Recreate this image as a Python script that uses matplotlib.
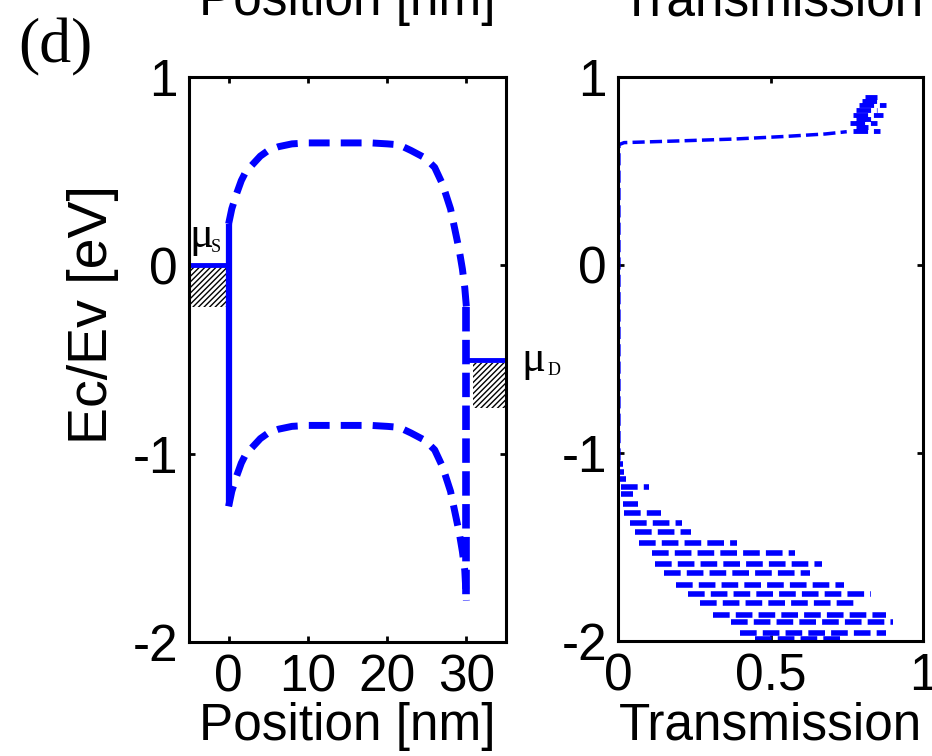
import matplotlib
matplotlib.use('Agg')
import matplotlib.pyplot as plt
from matplotlib.patches import Rectangle
import numpy as np

plt.rcParams['font.family'] = ['Liberation Sans', 'DejaVu Sans']
plt.rcParams['hatch.linewidth'] = 1.0
plt.rcParams['axes.unicode_minus'] = False

# band edges along the channel [nm, eV]
position = [0, 0.4, 1, 1.6, 2.2, 2.9, 4, 5, 6.3, 8, 10, 14, 18, 20, 21.5,
            23, 24.8, 26, 27, 28, 28.6, 29.1, 29.5, 29.8, 30]
ec = [0.22, 0.30, 0.38, 0.45, 0.50, 0.53, 0.58, 0.61, 0.63, 0.645, 0.65, 0.65,
      0.65, 0.645, 0.64, 0.61, 0.57, 0.52, 0.43, 0.30, 0.18, 0.08, -0.02, -0.12, -0.22]
ev = [-1.28, -1.20, -1.12, -1.05, -1.00, -0.97, -0.92, -0.89, -0.87, -0.855, -0.85, -0.85,
      -0.85, -0.855, -0.86, -0.89, -0.93, -0.98, -1.07, -1.20, -1.32, -1.42, -1.52, -1.62, -1.78]

# contact Fermi levels
mu_s = 0.0
mu_d = -0.5

# transmission inside the gap (hugging zero)
t_gap = [0.003, 0.003]
e_gap = [-1.04, 0.64]
# rising edge above the gap
t_edge = [0.003, 0.02, 0.2, 0.38, 0.55, 0.68, 0.75]
e_edge = [0.64, 0.651, 0.66, 0.670, 0.684, 0.697, 0.709]
# oscillating rows in the conduction band (energy, low, high)
e_cb = [0.715, 0.735, 0.755, 0.775, 0.80, 0.825, 0.85, 0.875, 0.895]
t_cb_lo = [0.77, 0.78, 0.76, 0.78, 0.77, 0.78, 0.79, 0.80, 0.81]
t_cb_hi = [0.86, 0.82, 0.85, 0.83, 0.87, 0.85, 0.88, 0.86, 0.85]
# oscillating rows in the valence band (energy, low, high)
e_vb = [-1.06, -1.10, -1.14, -1.18, -1.22, -1.27, -1.32, -1.37, -1.42, -1.48, -1.53,
        -1.59, -1.64, -1.70, -1.75, -1.80, -1.86, -1.90, -1.96, -1.99]
t_vb_lo = [0.003, 0.003, 0.005, 0.01, 0.01, 0.015, 0.02, 0.04, 0.055, 0.07, 0.11,
           0.12, 0.15, 0.19, 0.23, 0.27, 0.31, 0.37, 0.40, 0.45]
t_vb_hi = [0.015, 0.02, 0.025, 0.10, 0.05, 0.066, 0.14, 0.21, 0.24, 0.39, 0.58,
           0.67, 0.63, 0.74, 0.83, 0.78, 0.88, 0.90, 0.88, 0.73]


def rows(e, lo, hi):
    # one horizontal stroke per energy row, broken apart with NaN
    ts, es = [], []
    for i in range(len(e)):
        ts += [lo[i], hi[i], np.nan]
        es += [e[i], e[i], np.nan]
    return ts, es


blue = (0, 0, 1)
fig = plt.figure(figsize=(9.32, 7.56), dpi=100)
ax1 = fig.add_axes([189 / 932, 1 - 642 / 756, 317 / 932, 565 / 756])
ax2 = fig.add_axes([618 / 932, 1 - 641 / 756, 305 / 932, 564 / 756])

# ---- band diagram
ax1.plot(position, ec, color=blue, lw=5, dashes=(3, 1.6))
ax1.plot(position, ev, color=blue, lw=5, dashes=(3, 1.6))
ax1.plot([position[-1], position[-1]], [ec[-1], ev[-1]], color=blue, lw=5.5, dashes=(3.2, 1.1))
ax1.plot([position[0], position[0]], [ec[0], ev[0]], color=blue, lw=4.5, solid_capstyle='butt')
ax1.plot([-5, 0], [mu_s, mu_s], color=blue, lw=3.5, solid_capstyle='butt')
ax1.plot([30, 35], [mu_d, mu_d], color=blue, lw=3.5, solid_capstyle='butt')
ax1.add_patch(Rectangle((-5, mu_s - 0.22), 4.75, 0.21, facecolor='none',
                        edgecolor='k', lw=0, hatch='//////'))
ax1.add_patch(Rectangle((30.8, mu_d - 0.255), 4.2, 0.235, facecolor='none',
                        edgecolor='k', lw=0, hatch='//////'))

ax1.text(-5.0, 0.10, 'μ', family='Liberation Serif', fontsize=32, va='baseline')
ax1.text(-2.2, 0.07, 'S', family='Liberation Serif', fontsize=13, va='baseline')
ax1.text(37.0, -0.56, 'μ', family='Liberation Serif', fontsize=32, va='baseline', clip_on=False)
ax1.text(40.2, -0.58, 'D', family='Liberation Serif', fontsize=13, va='baseline', clip_on=False)

ax1.set_xlim(-5, 35)
ax1.set_ylim(-2, 1)
ax1.set_xticks([0, 10, 20, 30])
ax1.set_yticks([-2, -1, 0, 1])
ax1.set_xlabel('Position [nm]', fontsize=37, labelpad=0)
ax1.set_ylabel('Ec/Ev [eV]', fontsize=40)
ax1.yaxis.set_label_coords(-0.22, 0.58)

# ---- transmission
t_cb, e_cb_path = rows(e_cb, t_cb_lo, t_cb_hi)
t_vb, e_vb_path = rows(e_vb, t_vb_lo, t_vb_hi)
ax2.plot(t_gap + t_edge, e_gap + e_edge, color=blue, lw=2.5, dashes=(3.5, 1.5))
ax2.plot(t_cb, e_cb_path, color=blue, lw=3.5, dashes=(3, 1.2))
ax2.plot(t_vb, e_vb_path, color=blue, lw=4, dashes=(3, 1.1))
ax2.set_xlim(0, 1)
ax2.set_ylim(-2, 1)
ax2.set_xticks([0, 0.5, 1])
ax2.set_xticklabels(['0', '0.5', '1'])
ax2.set_yticks([-2, -1, 0, 1])
ax2.set_xlabel('Transmission', fontsize=37, labelpad=0)

for ax in (ax1, ax2):
    for s in ax.spines.values():
        s.set_linewidth(2.2)
    ax.tick_params(direction='in', length=4, width=2, labelsize=37, pad=8,
                   top=True, right=True)

# column headings at the top edge
fig.text(347 / 932, 1 - 15 / 756, 'Position [nm]', fontsize=37, ha='center', va='baseline')
fig.text(772 / 932, 1 - 15 / 756, 'Transmission', fontsize=37, ha='center', va='baseline')
fig.text(18 / 932, 1 - 62 / 756, '(d)', family='Liberation Serif', fontsize=46, va='baseline')

fig.savefig('out.png', dpi=100)
